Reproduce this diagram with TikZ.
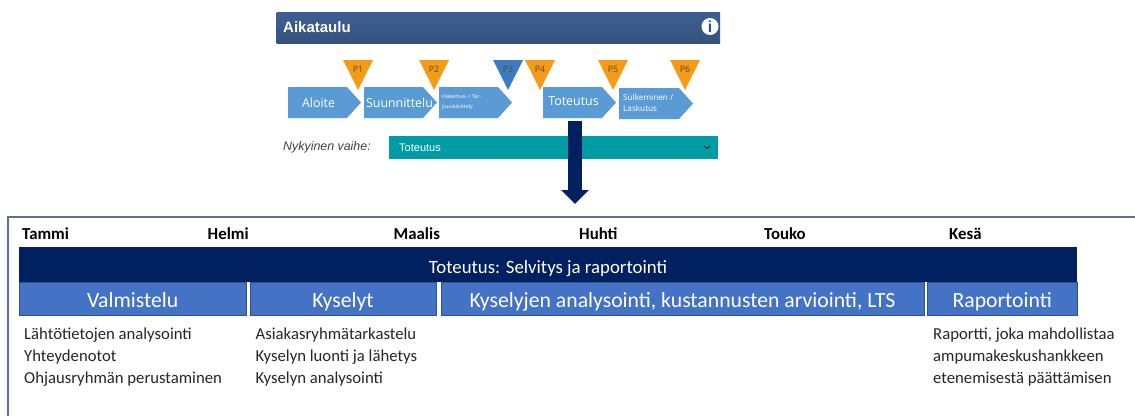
\documentclass[tikz,border=0pt]{standalone}
\usepackage{fontspec}
\setmainfont{Carlito}
\newfontfamily\arial{Liberation Sans}
\newfontfamily\opens{Open Sans}
\usetikzlibrary{arrows.meta}
\definecolor{headtop}{HTML}{3D5F90}
\definecolor{headbot}{HTML}{34527F}
\definecolor{stageblue}{HTML}{5B9BD5}
\definecolor{gateorange}{HTML}{F49B1A}
\definecolor{gateblue}{HTML}{3A7CC4}
\definecolor{gatetext}{HTML}{5E4A1E}
\definecolor{teal}{HTML}{009CA6}
\definecolor{navy}{HTML}{002060}
\definecolor{boxblue}{HTML}{4472C4}
\definecolor{boxedge}{HTML}{2F528F}
\definecolor{framecol}{HTML}{5E7090}
\definecolor{bodytext}{HTML}{262626}
\tikzset{
  x=1pt,y=-1pt,
  stagetext/.style={text=white,inner sep=0pt,font=\opens\fontsize{12.4}{13}\selectfont},
  stagesmall/.style={text=white,inner sep=0pt,align=left,anchor=west},
  gatelabel/.style={text=gatetext,inner sep=0pt,font=\opens\fontsize{8.8}{9}\selectfont},
  phasebox/.style={fill=boxblue,draw=boxedge,line width=.8pt,inner sep=0pt,outer sep=0pt,text=white,text height=20pt,text depth=3pt,font=\fontsize{21.7}{24}\selectfont},
  month/.style={anchor=base west,inner sep=0pt,text=black,font=\bfseries\fontsize{16.8}{18}\selectfont},
  notes/.style={anchor=north west,align=left,inner sep=0pt,text=bodytext,font=\fontsize{16.7}{22}\selectfont},
  bigarrow/.style={navy,line width=14pt,-{Triangle[length=14pt,width=27pt]}},
}
\newcommand{\stage}[4]{% x0, x1, top, body end
  \fill[stageblue] (#1,#3) -- (#4,#3) -- (#2,#3+15.5) -- (#4,#3+31) -- (#1,#3+31) -- cycle;
}
\newcommand{\gate}[4]{% name, x of apex, colour, label
  \fill[#3] (#2-15,60) -- (#2+15,60) -- (#2,90) -- cycle;
  \node[gatelabel] (#1) at (#2,69) {#4};
}
\begin{document}
\begin{tikzpicture}
\useasboundingbox (0,0) rectangle (1135,416);
\fill[white] (0,0) rectangle (1135,416);
% header
\node[minimum width=443.5pt,minimum height=31pt,inner sep=0pt,outer sep=0pt,anchor=north west,top color=headtop,bottom color=headbot] (header) at (276.5,12) {};
\node[anchor=west,inner sep=0pt,text=white,font=\arial\bfseries\fontsize{15}{16}\selectfont] (title) at (283,27) {Aikataulu};
\node[circle,fill=white,minimum size=17pt,inner sep=0pt,text=headbot,font=\arial\bfseries\fontsize{16}{16}\selectfont] (info) at (710,26.5) {i};
% stages
\stage{288}{361}{87}{347}
\stage{364}{437}{87}{423}
\stage{439}{512}{87}{498}
\stage{543}{616}{87}{602}
\stage{619}{693}{88}{679}
\node[stagetext] (t1) at (318.5,102.5) {Aloite};
\node[stagetext] (t2) at (399.5,102.5) {Suunnittelu};
\node[stagesmall,font=\opens\fontsize{5.3}{10}\selectfont] (t3) at (442,102) {Hakemus- / Tar-\\jouskäsittely};
\node[stagetext] (t4) at (573.5,101.5) {Toteutus};
\node[stagesmall,font=\opens\fontsize{8.2}{11}\selectfont] (t5) at (623,102.5) {Sulkeminen /\\Laskutus};
% gates
\gate{p1}{358}{gateorange}{P1}
\gate{p2}{434}{gateorange}{P2}
\gate{p3}{508}{gateblue}{P3}
\gate{p4}{540}{gateorange}{P4}
\gate{p5}{613}{gateorange}{P5}
\gate{p6}{685}{gateorange}{P6}
% current phase
\node[anchor=west,inner sep=0pt,text=black!75,font=\arial\itshape\fontsize{12.4}{14}\selectfont] (nyk) at (283,147) {Nykyinen vaihe:};
\node[anchor=north west,minimum width=329pt,minimum height=23pt,fill=teal,inner sep=0pt,outer sep=0pt] (bar) at (389,136) {};
\node[anchor=west,inner sep=0pt,text=white,font=\arial\fontsize{11}{12}\selectfont] (bartext) at (399,148) {Toteutus};
\coordinate (c1) at (704,146);
\coordinate (c2) at (707,148.5);
\coordinate (c3) at (710,146);
\draw[black!80,line width=1pt] (c1) -- (c2) -- (c3);
% big arrow
\coordinate (arrowstart) at (575,121);
\coordinate (arrowend) at (575,204);
\draw[bigarrow] (arrowstart) -- (arrowend);
% frame
\coordinate (frameBL) at (8,416);
\coordinate (frameTL) at (8,217);
\coordinate (frameTR) at (1135,217);
\draw[framecol,line width=1.2pt] (frameBL) -- (frameTL) -- (frameTR);
% months
\node[month] (m1) at (22,239) {Tammi};
\node[month] (m2) at (207.5,239) {Helmi};
\node[month] (m3) at (393.5,239) {Maalis};
\node[month] (m4) at (579,239) {Huhti};
\node[month] (m5) at (764,239) {Touko};
\node[month] (m6) at (949,239) {Kesä};
% bars
\node[anchor=north west,minimum width=1058pt,minimum height=35pt,inner sep=0pt,outer sep=0pt,fill=navy,text=white,text height=20pt,text depth=3pt,font=\fontsize{18.8}{20}\selectfont] (main) at (19,247) {Toteutus: Selvitys ja raportointi};
\node[phasebox,anchor=north west,minimum width=227.5pt,minimum height=33pt] (b1) at (19,282) {Valmistelu};
\node[phasebox,anchor=north west,minimum width=186pt,minimum height=33pt] (b2) at (250,282) {Kyselyt};
\node[phasebox,anchor=north west,minimum width=483pt,minimum height=33pt] (b3) at (441,282) {Kyselyjen analysointi, kustannusten arviointi, LTS};
\node[phasebox,anchor=north west,minimum width=149.5pt,minimum height=33pt] (b4) at (927.5,282) {Raportointi};
% notes
\node[notes] (n1) at (24,327.5) {Lähtötietojen analysointi\\Yhteydenotot\\Ohjausryhmän perustaminen};
\node[notes] (n2) at (255.5,327.5) {Asiakasryhmätarkastelu\\Kyselyn luonti ja lähetys\\Kyselyn analysointi};
\node[notes] (n3) at (933,327.5) {Raportti, joka mahdollistaa\\ampumakeskushankkeen\\etenemisestä päättämisen};
\end{tikzpicture}
\end{document}
